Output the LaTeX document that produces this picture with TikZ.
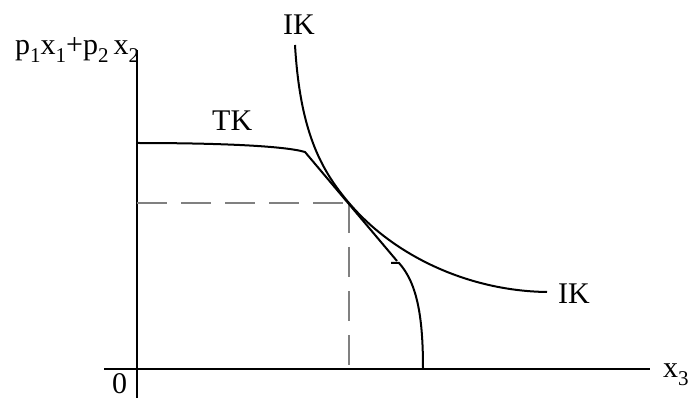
\documentclass[tikz,border=0pt]{standalone}
\usepackage{fontspec}
\setmainfont{Liberation Serif}
\newcommand\lowsub[1]{\raisebox{-8pt}{\fontsize{21}{21}\selectfont #1}}
\begin{document}
\begin{tikzpicture}[x=1pt,y=-1pt,
  lbl/.style={inner sep=0pt,anchor=base west,font=\fontsize{30}{30}\selectfont},
  axis/.style={line width=2.5pt},
  curve/.style={line width=2pt},
  guide/.style={line width=1.2pt,gray,dash pattern=on 30pt off 14pt}]
\useasboundingbox (0,0) rectangle (691,398);
% axes
\coordinate (ytop) at (137,50);
\coordinate (ybot) at (137,398);
\coordinate (xl) at (104,369);
\coordinate (xr) at (650,369);
\draw[axis] (ytop) -- (ybot);
\draw[axis] (xl) -- (xr);
% key points
\coordinate (T) at (349,203);
\coordinate (Ty) at (137,203);
\coordinate (Tx) at (349,369);
\draw[guide] (Ty) -- (T);
\draw[guide] (T) -- (Tx);
% IK curve
\coordinate (ik1) at (295,45);
\coordinate (ik2) at (547,292);
\draw[curve] (ik1) .. controls (300,130) and (320,169) .. (T)
  .. controls (395,257) and (470,291) .. (ik2);
% TK curve
\coordinate (tk1) at (137,143);
\coordinate (tkc) at (305,152);
\coordinate (tke) at (397,261);
\coordinate (hk1) at (391,263);
\coordinate (hk2) at (399,263);
\coordinate (tkb) at (423,369);
\draw[curve] (tk1) .. controls (220,143) and (285,146) .. (tkc) -- (tke);
\draw[curve] (hk1) -- (hk2) .. controls (418,284) and (423,320) .. (tkb);
% labels
\node[lbl] (ylab) at (15,55) {p\lowsub{1}x\lowsub{1}+p\lowsub{2}\,x\lowsub{2}};
\node[lbl] (zero) at (112,393) {0};
\node[lbl] (xlab) at (663,377) {x\lowsub{3}};
\node[lbl] (iktop) at (283,35) {IK};
\node[lbl] (ikright) at (558,303) {IK};
\node[lbl] (tk) at (212,131) {TK};
\end{tikzpicture}
\end{document}
